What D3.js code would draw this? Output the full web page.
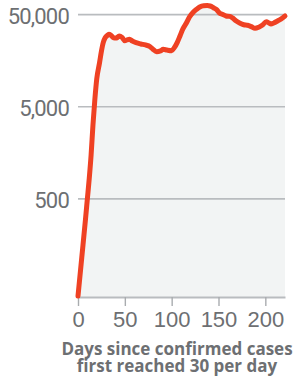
<!DOCTYPE html>
<html>
<head>
<meta charset="utf-8">
<script src="https://cdn.jsdelivr.net/npm/d3@7"></script>
<style>
    body { margin: 0; background: #fff; }
    svg { display: block; font-family: Roboto, "Noto Sans", sans-serif; }
    .grid line { stroke: #b9bcbf; stroke-width: 1.6; }
    .tick-label { fill: #6d6f72; font-size: 22px; }
    .y-label { letter-spacing: -0.8px; }
    .axis-title { fill: #6d6f72; font-family: "Open Sans", Roboto, sans-serif; font-size: 17px; font-weight: bold; }
</style>
</head>
<body>
<svg id="chart"></svg>
<script>
// days since 30 cases/day, 7-day average of new cases
const days = [0, 4, 8, 10, 12, 14, 16, 18, 20, 23, 25, 27, 29, 31, 33, 35, 38, 41, 44, 47, 50, 52, 55, 58, 62, 67, 72, 77, 80, 84, 88, 91, 95, 100, 103, 106, 109, 112, 116, 119, 123, 127, 130, 134, 138, 141, 145, 148, 151, 154, 158, 162, 165, 169, 173, 177, 181, 185, 189, 193, 197, 201, 204, 206, 209, 213, 217, 221];
const cases = [44, 115, 300, 500, 830, 1500, 3200, 6000, 10000, 15000, 20000, 25000, 28000, 29500, 30500, 30000, 28000, 27800, 29300, 28300, 26000, 26500, 27000, 25800, 24800, 24000, 23400, 22400, 21000, 19800, 20200, 21000, 20600, 20300, 22000, 25000, 29500, 35000, 41000, 47000, 53000, 57500, 60500, 62400, 62600, 62000, 59000, 56500, 52000, 50500, 48300, 47800, 46000, 42500, 40200, 38800, 38300, 37000, 35500, 36500, 38500, 41900, 40500, 39500, 40500, 42600, 45000, 48300];

const yTicks = [500, 5000, 50000];
const xTicks = [0, 50, 100, 150, 200];
const xTitle = ["Days since confirmed cases", "first reached 30 per day"];

class CaseChart {
    constructor(_config) {
        this.config = {
            parentElement: _config.parentElement,
            containerWidth: 299,
            containerHeight: 380,
            margin: {top: 0, right: 14, bottom: 83, left: 78}
        }
        this.initVis();
    }

    initVis() {
        let vis = this;
        vis.width = vis.config.containerWidth - vis.config.margin.left - vis.config.margin.right;
        vis.height = vis.config.containerHeight - vis.config.margin.top - vis.config.margin.bottom;

        vis.x = d3.scaleLinear()
            .domain([0, 221])
            .range([0, vis.width]);

        vis.y = d3.scaleLog()
            .domain([43, 72000])
            .range([vis.height, 0]);

        vis.svg = d3.select(vis.config.parentElement)
            .attr('width', vis.config.containerWidth)
            .attr('height', vis.config.containerHeight);

        vis.chart = vis.svg.append('g')
            .attr('transform', `translate(${vis.config.margin.left},${vis.config.margin.top})`);
    }

    renderVis() {
        let vis = this;
        const data = days.map((d, i) => ({day: d, value: cases[i]}));

        // shaded area under the curve
        vis.chart.append('path')
            .datum(data)
            .attr('fill', '#f2f4f4')
            .attr('d', d3.area()
                .x(d => vis.x(d.day))
                .y0(vis.height)
                .y1(d => vis.y(d.value))
                .curve(d3.curveMonotoneX));

        // horizontal gridlines
        vis.chart.append('g')
            .attr('class', 'grid')
            .selectAll('line')
            .data(yTicks)
            .join('line')
            .attr('x1', 0)
            .attr('x2', vis.width)
            .attr('y1', d => vis.y(d))
            .attr('y2', d => vis.y(d));

        vis.chart.append('g')
            .selectAll('text')
            .data(yTicks)
            .join('text')
            .attr('class', 'tick-label y-label')
            .attr('x', -9)
            .attr('y', d => vis.y(d) + 9.5)
            .attr('text-anchor', 'end')
            .text(d => d3.format(',')(d));

        // x axis
        const xAxis = d3.axisBottom(vis.x)
            .tickValues(xTicks)
            .tickSize(9)
            .tickSizeOuter(0)
            .tickPadding(5);

        const xg = vis.chart.append('g')
            .attr('transform', `translate(0,${vis.height})`)
            .call(xAxis);
        xg.select('.domain').attr('stroke', '#b9bcbf').attr('stroke-width', 2.2);
        xg.selectAll('.tick line').attr('stroke', '#a9acaf').attr('stroke-width', 1.4);
        xg.selectAll('.tick text')
            .attr('class', 'tick-label')
            .attr('font-family', null)
            .attr('font-size', null)
            .attr('fill', null);

        // the case line
        vis.chart.append('path')
            .datum(data)
            .attr('fill', 'none')
            .attr('stroke', '#ef4123')
            .attr('stroke-width', 5)
            .attr('stroke-linecap', 'round')
            .attr('stroke-linejoin', 'round')
            .attr('d', d3.line()
                .x(d => vis.x(d.day))
                .y(d => vis.y(d.value))
                .curve(d3.curveMonotoneX));

        // axis title, two lines
        vis.svg.append('g')
            .selectAll('text')
            .data(xTitle)
            .join('text')
            .attr('class', 'axis-title')
            .attr('text-anchor', 'middle')
            .attr('x', 177)
            .attr('y', (d, i) => 355 + i * 17)
            .text(d => d);
    }
}

const chart = new CaseChart({parentElement: '#chart'});
chart.renderVis();
</script>
</body>
</html>
